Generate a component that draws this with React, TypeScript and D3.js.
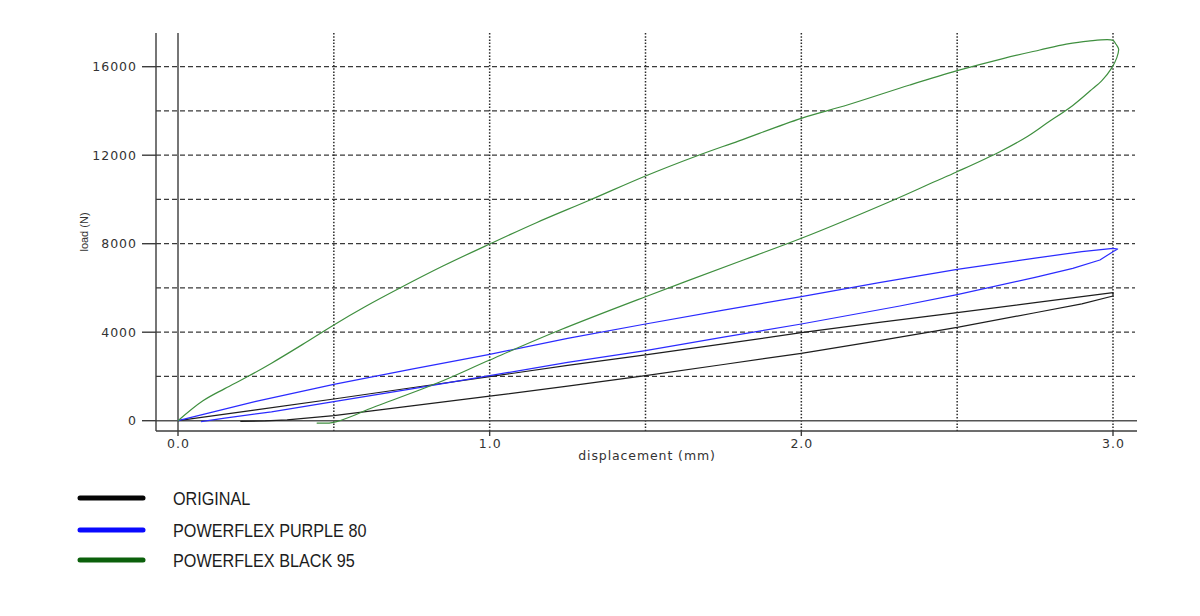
import React from "react";
import * as d3 from "d3";

// load / displacement hysteresis loops, [displacement mm, load N]
const originalUpper: [number, number][] = [
  [0, 0], [0.25, 490], [0.5, 981], [0.75, 1490], [1.0, 1990], [1.25, 2500], [1.5, 2971],
  [1.75, 3470], [2.0, 3977], [2.25, 4440], [2.5, 4882], [2.75, 5340], [3.0, 5786],
];
const originalLower: [number, number][] = [
  [3.0, 5636], [2.9, 5280], [2.75, 4880], [2.5, 4221], [2.25, 3620], [2.0, 3046], [1.75, 2540],
  [1.5, 2040], [1.25, 1560], [1.0, 1110], [0.75, 670], [0.5, 230], [0.35, 40], [0.28, -10], [0.2, -30],
];
const purpleUpper: [number, number][] = [
  [0, 0], [0.25, 870], [0.5, 1645], [0.75, 2330], [1.0, 3000], [1.25, 3720], [1.5, 4370],
  [1.75, 5000], [2.0, 5605], [2.25, 6240], [2.5, 6843], [2.75, 7350], [2.9, 7640], [3.0, 7792], [3.015, 7760],
];
const purpleLower: [number, number][] = [
  [3.0, 7640], [2.958, 7263], [2.871, 6887], [2.75, 6480], [2.5, 5700], [2.316, 5183], [2.0, 4370],
  [1.75, 3780], [1.5, 3164], [1.25, 2640], [1.0, 2034], [0.75, 1440], [0.5, 859], [0.3, 400],
  [0.15, 120], [0.074, -40],
];
const blackUpper: [number, number][] = [
  [0, 0], [0.08, 900], [0.15, 1450], [0.225, 2006], [0.3, 2600], [0.4, 3450], [0.5, 4330],
  [0.6, 5150], [0.712, 5997], [0.85, 6990], [1.0, 7986], [1.15, 8950], [1.322, 9975], [1.5, 11060],
  [1.664, 11964], [1.8, 12650], [2.0, 13667], [2.15, 14280], [2.348, 15173], [2.5, 15820],
  [2.65, 16380], [2.765, 16755], [2.85, 17020], [2.92, 17160], [3.0, 17190],
];
const blackLower: [number, number][] = [
  [3.008, 17050], [3.018, 16800], [3.012, 16400], [2.995, 15927], [2.965, 15380],
  [2.926, 14900], [2.871, 14250], [2.787, 13440], [2.724, 12836], [2.637, 12158],
  [2.5, 11254], [2.423, 10774], [2.3, 10000], [2.0, 8244], [1.814, 7263], [1.5, 5605],
  [1.2255, 4099], [1.0, 2743], [0.83, 1690], [0.605, 483], [0.568, 258], [0.509, -45],
  [0.49, -100], [0.445, -112],
];

const seriesNames = ["ORIGINAL", "POWERFLEX PURPLE 80", "POWERFLEX BLACK 95"];
const seriesCurves = [
  [...originalUpper, ...originalLower],
  [...purpleUpper, ...purpleLower],
  [...blackUpper, ...blackLower],
];
const curveColors = ["#1e1e1e", "#2b2bff", "#3f8f3f"];
const legendColors = ["#050505", "#0a0aff", "#0b600b"];

const yTicks = [0, 4000, 8000, 12000, 16000];
const yGrid = [2000, 4000, 6000, 8000, 10000, 12000, 14000, 16000];
const xTicks = [0, 1, 2, 3];
const xGrid = [0.5, 1, 1.5, 2, 2.5, 3];

const frame = { left: 156, right: 1137, top: 33, bottom: 431 };
const tickFont = "'DejaVu Sans', Verdana, sans-serif";

export default function App() {
  const x = d3.scaleLinear().domain([0, 3]).range([178, 1113]);
  const y = d3.scaleLinear().domain([0, 16000]).range([420.7, 66.7]);
  const straight = d3.line<[number, number]>()
    .x(d => x(d[0]))
    .y(d => y(d[1]));
  const smooth = d3.line<[number, number]>()
    .x(d => x(d[0]))
    .y(d => y(d[1]))
    .curve(d3.curveCatmullRom.alpha(0.5));
  const fmt = d3.format(".1f");

  return (
    <svg width={1200} height={616} style={{ position: "absolute", left: 0, top: 0, background: "#fff" }}>
      {/* grid */}
      {yGrid.map(v => (
        <line key={"gy" + v} x1={frame.left} x2={1135} y1={y(v)} y2={y(v)}
          stroke="#3a3a3a" strokeWidth={1.2} strokeDasharray="5,3" />
      ))}
      {xGrid.map(v => (
        <line key={"gx" + v} x1={x(v)} x2={x(v)} y1={frame.top} y2={frame.bottom}
          stroke="#2a2a2a" strokeWidth={1.5} strokeDasharray="1.5,1.7" />
      ))}

      {/* zero lines and frame */}
      <line x1={x(0)} x2={x(0)} y1={frame.top} y2={frame.bottom} stroke="#3c3c3c" strokeWidth={1.4} />
      <line x1={frame.left} x2={frame.right} y1={y(0)} y2={y(0)} stroke="#555" strokeWidth={1.4} />
      <line x1={frame.left} x2={frame.left} y1={frame.top} y2={frame.bottom} stroke="#3c3c3c" strokeWidth={1.4} />
      <line x1={frame.left} x2={frame.right} y1={frame.bottom} y2={frame.bottom} stroke="#3c3c3c" strokeWidth={1.4} />

      {/* y ticks */}
      {yTicks.map(v => (
        <g key={"ty" + v}>
          <line x1={142} x2={frame.left} y1={y(v)} y2={y(v)} stroke="#3c3c3c" strokeWidth={1.4} />
          <text x={137} y={y(v) + 4.6} textAnchor="end" fontFamily={tickFont} fontSize={12.5}
            letterSpacing={1} fill="#333">{v}</text>
        </g>
      ))}

      {/* x ticks */}
      {xTicks.map(v => (
        <g key={"tx" + v}>
          <line x1={x(v)} x2={x(v)} y1={frame.bottom} y2={frame.bottom + 5} stroke="#3c3c3c" strokeWidth={1.4} />
          <text x={x(v) + 0.5} y={447.5} textAnchor="middle" fontFamily={tickFont} fontSize={12.5}
            letterSpacing={1} fill="#333">{fmt(v)}</text>
        </g>
      ))}

      <text x={647} y={459.5} textAnchor="middle" fontFamily={tickFont} fontSize={12.5}
        letterSpacing={0.9} fill="#333">displacement (mm)</text>
      <text transform="translate(88,232) rotate(-90)" textAnchor="middle"
        fontFamily="'Liberation Sans', Arial, sans-serif" fontSize={11} fill="#333">load (N)</text>

      {/* curves: the two stiff loops are drawn straight, the big loop smoothed */}
      {seriesCurves.map((pts, i) => (
        <path key={"c" + i} d={(i === 2 ? smooth(pts) : straight(pts)) || ""} fill="none"
          stroke={curveColors[i]} strokeWidth={1.2} strokeLinejoin="round" />
      ))}

      {/* legend */}
      {seriesNames.map((name, i) => {
        const ly = [498, 530, 560][i];
        return (
          <g key={"l" + i}>
            <line x1={80} x2={143} y1={ly} y2={ly} stroke={legendColors[i]} strokeWidth={5}
              strokeLinecap="round" />
            <text transform={`translate(173,${ly + 7}) scale(0.9,1)`}
              fontFamily="'Liberation Sans', Arial, sans-serif" fontSize={18} fill="#1c1c1c">{name}</text>
          </g>
        );
      })}
    </svg>
  );
}
